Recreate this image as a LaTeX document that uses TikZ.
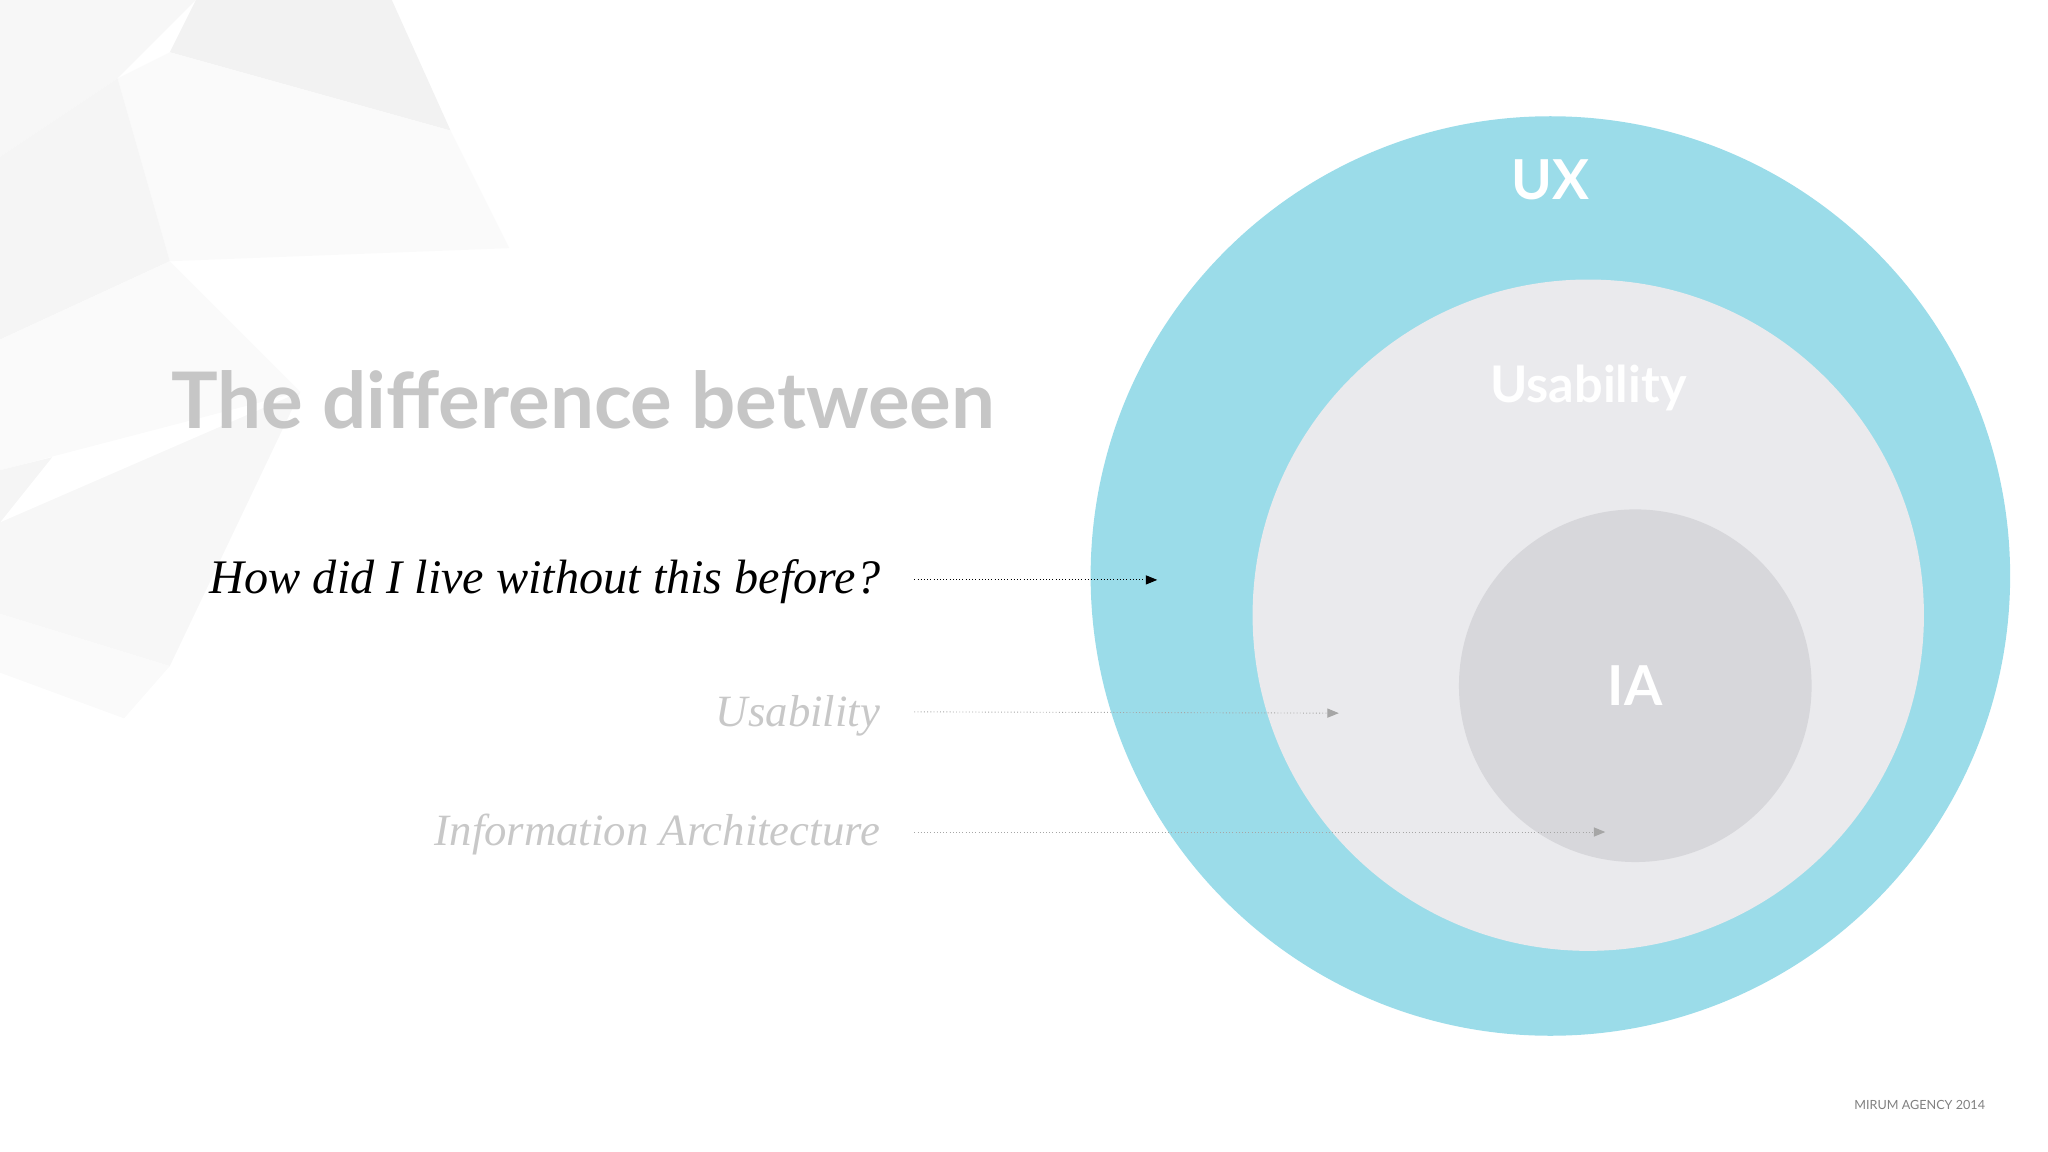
\documentclass[tikz,border=0pt]{standalone}
\usepackage{fontspec}
\setmainfont{Liberation Serif}
\newfontfamily\hd{Lato}
\usetikzlibrary{arrows.meta}
\definecolor{uxblue}{HTML}{9BDCE9}
\definecolor{usab}{HTML}{EAEAED}
\definecolor{iac}{HTML}{D7D7DB}
\definecolor{ttl}{HTML}{C6C6C6}
\definecolor{lite}{HTML}{C8C8C8}
\tikzset{
 lbl/.style={text=white,font=\hd\bfseries\fontsize{#1}{30}\selectfont},
 lbl/.default=24,
 itl/.style={anchor=east,font=\itshape\fontsize{#1}{25}\selectfont},
 itl/.default=21,
 ptr/.style={densely dotted,-{Triangle[length=5pt,width=4pt]}},
 poly/.style={fill=#1,draw=none}
}
\begin{document}
\begin{tikzpicture}[x=0.02cm,y=-0.02cm]
\useasboundingbox (0,0) rectangle (1568,882);
% faint polygon background
\fill[poly=black!3] (0,0)--(150,0)--(90,60)--(0,120)--cycle;
\fill[poly=black!5] (150,0)--(300,0)--(345,100)--(130,40)--cycle;
\fill[poly=black!2] (90,60)--(130,40)--(345,100)--(390,190)--(130,200)--cycle;
\fill[poly=black!4] (0,120)--(90,60)--(130,200)--(0,260)--cycle;
\fill[poly=black!2] (0,260)--(130,200)--(230,300)--(0,360)--cycle;
\fill[poly=black!4] (0,360)--(40,350)--(0,400)--cycle;
\fill[poly=black!3] (0,400)--(230,300)--(130,510)--(0,470)--cycle;
\fill[poly=black!2] (0,470)--(130,510)--(95,550)--(0,515)--cycle;
% circles
\node[circle,fill=uxblue,minimum size=704*0.02cm,inner sep=0] (ux) at (1187,441) {};
\node[circle,fill=usab,minimum size=514*0.02cm,inner sep=0] (us) at (1216,471) {};
\node[circle,fill=iac,minimum size=270*0.02cm,inner sep=0] (ia) at (1252,525) {};
\node[lbl] (uxl) at (1187,138) {UX};
\node[lbl=22] (usl) at (1216,297) {Usability};
\node[lbl] (ial) at (1252,525) {IA};
% title
\node[anchor=base west,text=ttl,font=\hd\bfseries\fontsize{34}{40}\selectfont,inner sep=0] (t) at (131,328) {The difference between};
% items
\node[itl,text=black] (q1) at (680,445) {How did I live without this before?};
\node[itl=19.5,text=lite] (q2) at (680,548) {Usability};
\node[itl=19.5,text=lite] (q3) at (680,639) {Information Architecture};
\coordinate (e1) at (886,444);
\coordinate (e2) at (1025,546);
\coordinate (e3) at (1229,637);
\draw[ptr,black] (700,444) -- (e1);
\draw[ptr,black!35] (700,545) -- (e2);
\draw[ptr,black!35] (700,637) -- (e3);
\node[anchor=east,text=black!50,font=\hd\fontsize{5.5}{6}\selectfont] (ft) at (1526,846) {MIRUM AGENCY 2014};
\end{tikzpicture}
\end{document}
